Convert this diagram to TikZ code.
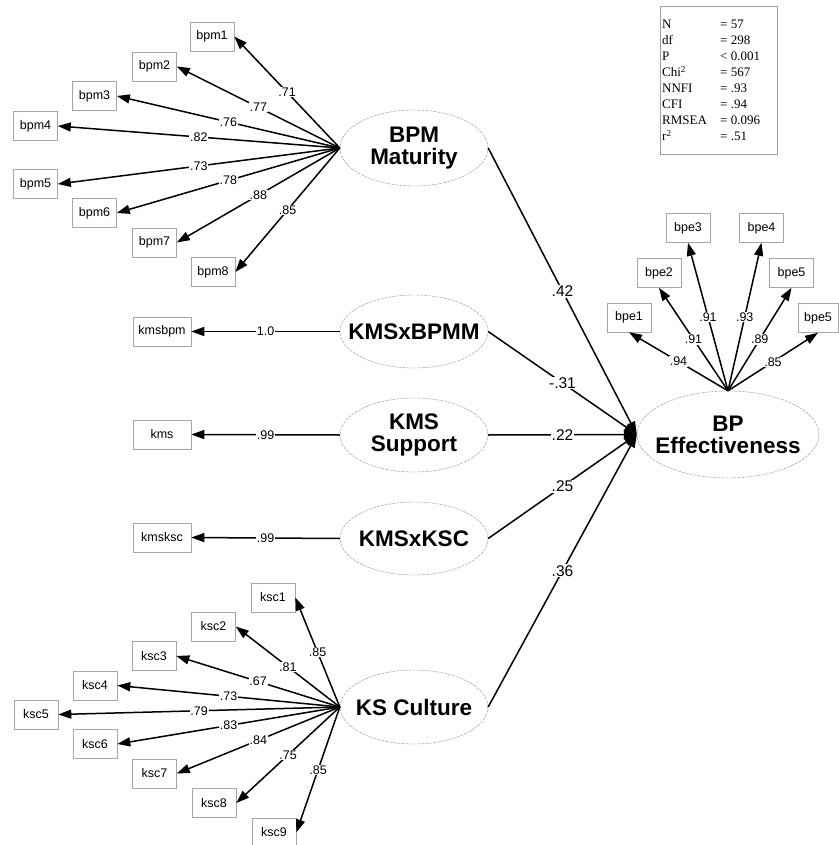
\documentclass[tikz,border=0pt]{standalone}
\usepackage{fontspec}
\setmainfont{Liberation Sans}
\newfontfamily\statfont{Liberation Serif}
\usetikzlibrary{shapes.geometric,arrows.meta}
\begin{document}
\begin{tikzpicture}[x=1pt,y=-1pt,
  ind/.style={draw=gray!70, line width=0.6pt, minimum width=44pt, minimum height=29pt, inner sep=0pt, font=\fontsize{12.5}{14}\selectfont},
  lat/.style={ellipse, draw=gray!85, dash pattern=on 3pt off 1pt, line width=0.4pt, minimum width=148pt, minimum height=74pt, inner sep=0pt},
  latt/.style={font=\fontsize{22.5}{22}\selectfont\bfseries, align=center, inner sep=0pt},
  arr/.style={line width=1.5pt, -{Triangle[length=13pt,width=9pt]}},
  lab/.style={fill=white, inner sep=0.8pt, font=\fontsize{12.5}{14}\selectfont},
  slab/.style={fill=white, inner sep=1pt, font=\fontsize{15.5}{17}\selectfont},
]
\useasboundingbox (0,0) rectangle (838,845);

% ---------- latent variables ----------
\node[lat] (bpmE) at (414,148) [minimum height=76pt] {};
\node[latt] (bpmT) at (bpmE.center) {BPM\\Maturity};
\node[lat] (kbE) at (414,331.5) [minimum height=73pt] {};
\node[latt] (kbT) at (kbE.center) {KMSxBPMM};
\node[lat] (ksE) at (414,435) {};
\node[latt] (ksT) at (ksE.center) {KMS\\Support};
\node[lat] (kkE) at (414,538.5) [minimum height=73pt] {};
\node[latt] (kkT) at (kkE.center) {KMSxKSC};
\node[lat] (kcE) at (414,707) {};
\node[latt] (kcT) at (kcE.center) {KS Culture};
\node[lat] (bpeE) at (728,434.5) [minimum width=182pt, minimum height=87pt] {};
\node[latt] (bpeT) at (bpeE.center) {BP\\Effectiveness};

% ---------- BPM indicators ----------
\node[ind] (bpm1) at (212,36.5) {bpm1};
\node[ind] (bpm2) at (154.5,66.5) {bpm2};
\node[ind] (bpm3) at (94.5,96) {bpm3};
\node[ind] (bpm4) at (35.5,126) {bpm4};
\node[ind] (bpm5) at (35.5,184) {bpm5};
\node[ind] (bpm6) at (94.5,213) {bpm6};
\node[ind] (bpm7) at (154.5,242.5) {bpm7};
\node[ind] (bpm8) at (213,272) {bpm8};

% ---------- KMS indicators ----------
\node[ind, minimum width=58pt] (kmsbpm) at (162,331.5) {kmsbpm};
\node[ind, minimum width=58pt] (kms) at (162,434.5) {kms};
\node[ind, minimum width=58pt] (kmsksc) at (162,537.5) {kmsksc};

% ---------- KSC indicators ----------
\node[ind] (ksc1) at (273,597.5) {ksc1};
\node[ind] (ksc2) at (213.5,626.5) {ksc2};
\node[ind] (ksc3) at (154,656) {ksc3};
\node[ind] (ksc4) at (95,685.5) {ksc4};
\node[ind] (ksc5) at (36,714.5) {ksc5};
\node[ind] (ksc6) at (95,744) {ksc6};
\node[ind] (ksc7) at (154.5,773.5) {ksc7};
\node[ind] (ksc8) at (214,803) {ksc8};
\node[ind] (ksc9) at (274,832.5) {ksc9};

% ---------- BPE indicators ----------
\node[ind] (bpe1) at (629,317.5) {bpe1};
\node[ind] (bpe2) at (659,273) {bpe2};
\node[ind] (bpe3) at (688,228) {bpe3};
\node[ind] (bpe4) at (761.5,228) {bpe4};
\node[ind] (bpe5a) at (791.5,273) {bpe5};
\node[ind, minimum width=40pt] (bpe5b) at (818,318) {bpe5};

% ---------- fit statistics ----------
\node[draw=gray!75, line width=0.7pt, minimum width=117pt, minimum height=148pt, anchor=north west, inner sep=0pt] (stats) at (660,6) {};
\node[anchor=north west, inner sep=0pt, font=\statfont\fontsize{13}{16}\selectfont] (statsT) at (662,17) {%
\begin{tabular}{@{}p{58pt}@{}l@{}}
N & = 57\\
df & = 298\\
P & < 0.001\\
Chi\textsuperscript{2} & = 567\\
NNFI & = .93\\
CFI & = .94\\
RMSEA & = 0.096\\
r\textsuperscript{2} & = .51
\end{tabular}};

% ---------- measurement paths ----------
\draw[arr] (bpmE.west) -- node[lab]{.71} (bpm1.east);
\draw[arr] (bpmE.west) -- node[lab]{.77} (bpm2.east);
\draw[arr] (bpmE.west) -- node[lab]{.76} (bpm3.east);
\draw[arr] (bpmE.west) -- node[lab]{.82} (bpm4.east);
\draw[arr] (bpmE.west) -- node[lab]{.73} (bpm5.east);
\draw[arr] (bpmE.west) -- node[lab]{.78} (bpm6.east);
\draw[arr] (bpmE.west) -- node[lab]{.88} (bpm7.east);
\draw[arr] (bpmE.west) -- node[lab]{.85} (bpm8.east);

\draw[arr] (kbE.west) -- node[lab]{1.0} (kmsbpm.east);
\draw[arr] (ksE.west) -- node[lab]{.99} (kms.east);
\draw[arr] (kkE.west) -- node[lab]{.99} (kmsksc.east);

\draw[arr] (kcE.west) -- node[lab]{.85} (ksc1.east);
\draw[arr] (kcE.west) -- node[lab]{.81} (ksc2.east);
\draw[arr] (kcE.west) -- node[lab]{.67} (ksc3.east);
\draw[arr] (kcE.west) -- node[lab]{.73} (ksc4.east);
\draw[arr] (kcE.west) -- node[lab]{.79} (ksc5.east);
\draw[arr] (kcE.west) -- node[lab]{.83} (ksc6.east);
\draw[arr] (kcE.west) -- node[lab]{.84} (ksc7.east);
\draw[arr] (kcE.west) -- node[lab]{.75} (ksc8.east);
\draw[arr] (kcE.west) -- node[lab]{.85} (ksc9.east);

\draw[arr] (bpeE.north) -- node[lab]{.94} (bpe1.south);
\draw[arr] (bpeE.north) -- node[lab]{.91} (bpe2.south);
\draw[arr] (bpeE.north) -- node[lab]{.91} (bpe3.south);
\draw[arr] (bpeE.north) -- node[lab]{.93} (bpe4.south);
\draw[arr] (bpeE.north) -- node[lab]{.89} (bpe5a.south);
\draw[arr] (bpeE.north) -- node[lab]{.85} (bpe5b.south);

% ---------- structural paths ----------
\draw[arr] (bpmE.east) -- node[slab]{.42} (bpeE.west);
\draw[arr] (kbE.east) -- node[slab]{-.31} (bpeE.west);
\draw[arr] (ksE.east) -- node[slab]{.22} (bpeE.west);
\draw[arr] (kkE.east) -- node[slab]{.25} (bpeE.west);
\draw[arr] (kcE.east) -- node[slab]{.36} (bpeE.west);
\end{tikzpicture}
\end{document}
